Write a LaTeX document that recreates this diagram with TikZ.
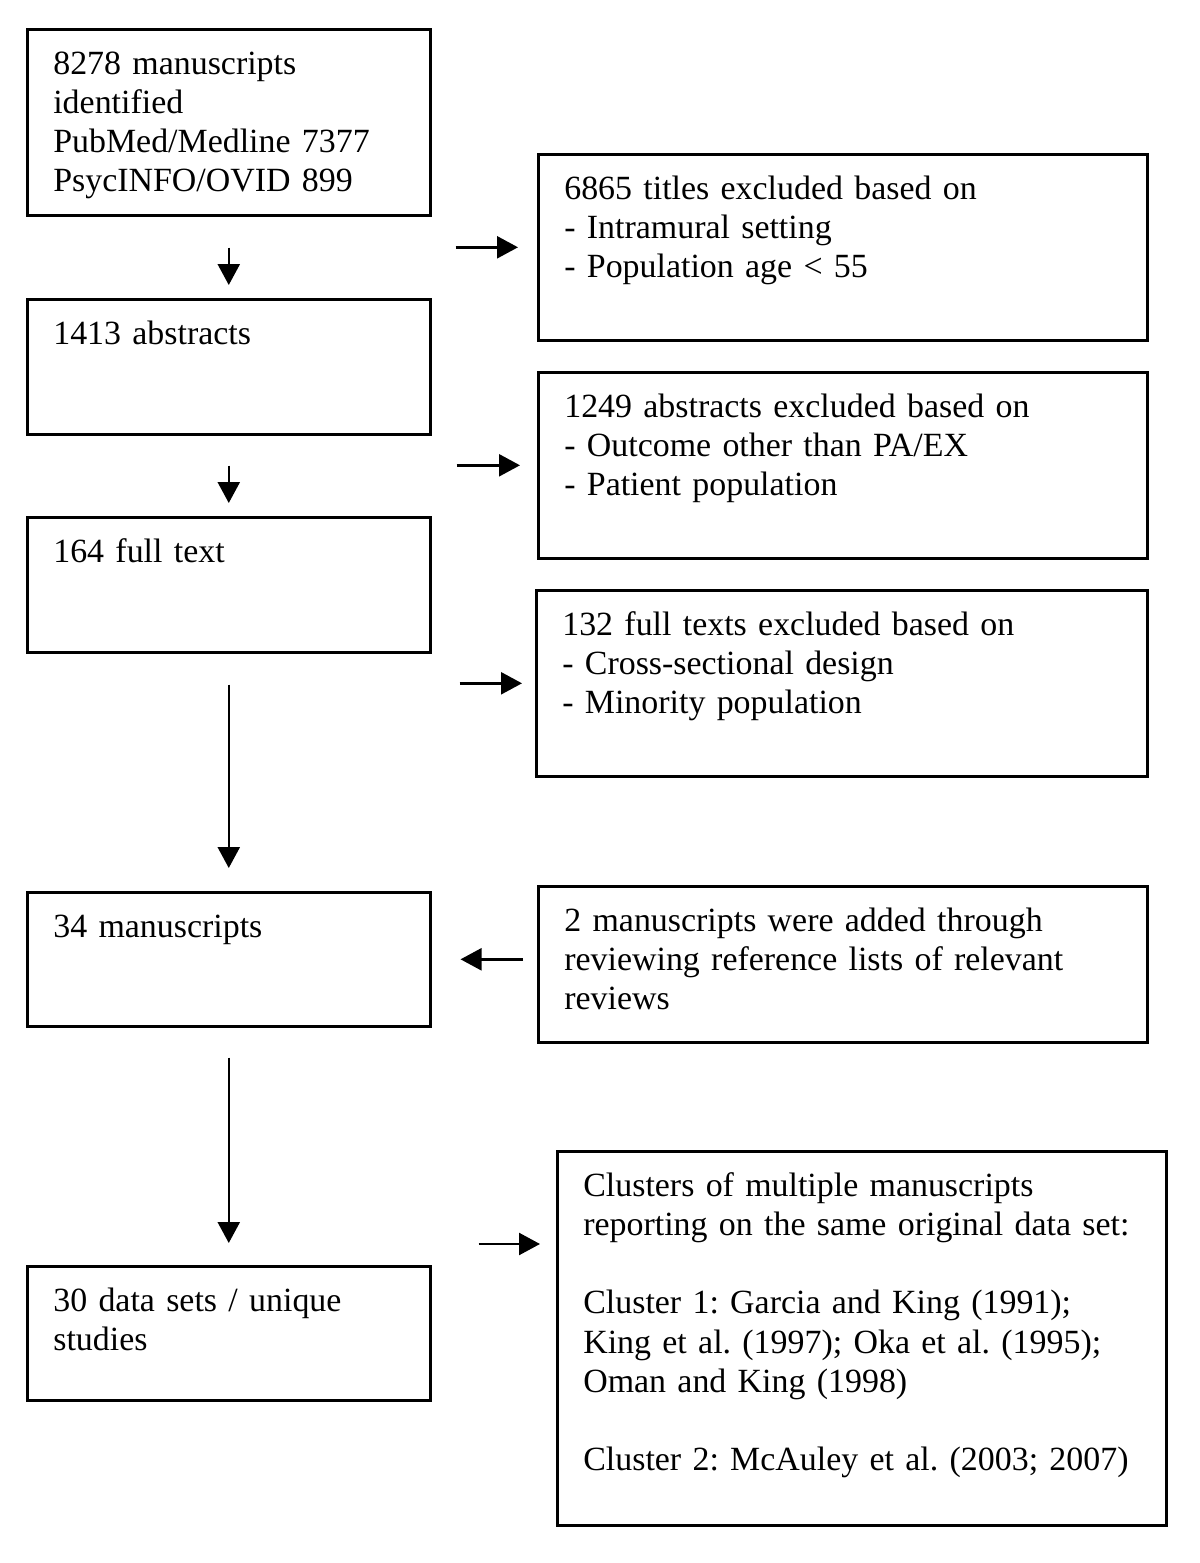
\documentclass[tikz,border=0pt]{standalone}
\usepackage{fontspec}
\setmainfont{Liberation Serif}
\frenchspacing
\usetikzlibrary{arrows.meta}

\begin{document}
\begin{tikzpicture}[x=0.02cm, y=-0.02cm,
  box/.style={draw, line width=1.5pt, anchor=north west, align=left,
    font=\fontsize{19.3}{22.3}\selectfont, inner xsep=0.52cm, inner ysep=0.42cm,
    text height=0.48cm},
  lbox/.style={box, text width=7.02cm},
  rbox/.style={box, text width=11.14cm},
  arr/.style={-{Triangle[length=0.42cm, width=0.44cm]}, line width=1.4pt}]
  \useasboundingbox (0,0) rectangle (1200,1563);

  \node[lbox, text depth=2.4cm] (ident) at (26,28) {8278 manuscripts\\ identified\\ PubMed/Medline 7377\\ PsycINFO/OVID 899};
  \node[lbox, text depth=1.38cm] (abstr) at (26,298) {1413 abstracts};
  \node[lbox, text depth=1.38cm] (fulltext) at (26,516) {164 full text};
  \node[lbox, text depth=1.36cm] (manus) at (26,891) {34 manuscripts};
  \node[lbox, text depth=1.36cm] (datasets) at (26,1265) {30 data sets / unique\\ studies};

  \node[rbox, text depth=2.4cm] (exTitles) at (537,153) {6865 titles excluded based on\\ - Intramural setting\\ - Population age < 55};
  \node[rbox, text depth=2.4cm] (exAbstr) at (537,371) {1249 abstracts excluded based on\\ - Outcome other than PA/EX\\ - Patient population};
  \node[rbox, text depth=2.4cm, text width=11.18cm] (exFull) at (535,589) {132 full texts excluded based on\\ - Cross-sectional design\\ - Minority population};
  \node[rbox, text depth=1.8cm] (added) at (537,885) {2 manuscripts were added through\\ reviewing reference lists of relevant\\ reviews};
  \node[rbox, text depth=6.16cm] (clusters) at (556,1150) {Clusters of multiple manuscripts\\ reporting on the same original data set:\\[\baselineskip] Cluster 1: Garcia and King (1991);\\ King et al. (1997); Oka et al. (1995);\\ Oman and King (1998)\\[\baselineskip] Cluster 2: McAuley et al. (2003; 2007)};
  \coordinate (clin) at ([yshift=-1.88cm]clusters.north west);

  \draw[arr, shorten <=0.62cm, shorten >=0.26cm] (ident) -- (abstr);
  \draw[arr, shorten <=0.6cm, shorten >=0.26cm] (abstr) -- (fulltext);
  \draw[arr, shorten <=0.62cm, shorten >=0.46cm] (fulltext) -- (manus);
  \draw[arr, shorten <=0.6cm, shorten >=0.44cm] (manus) -- (datasets);

  \draw[arr, shorten <=0.48cm, shorten >=0.38cm] (exTitles.west -| ident.east) -- (exTitles.west);
  \draw[arr, shorten <=0.5cm, shorten >=0.34cm] (exAbstr.west -| abstr.east) -- (exAbstr.west);
  \draw[arr, shorten <=0.56cm, shorten >=0.26cm] (exFull.west -| fulltext.east) -- (exFull.west);
  \draw[arr, shorten <=0.28cm, shorten >=0.58cm] (added.west |- manus.east) -- (manus.east);
  \draw[arr, shorten <=0.94cm, shorten >=0.32cm] (clin -| datasets.east) -- (clin);
\end{tikzpicture}
\end{document}
